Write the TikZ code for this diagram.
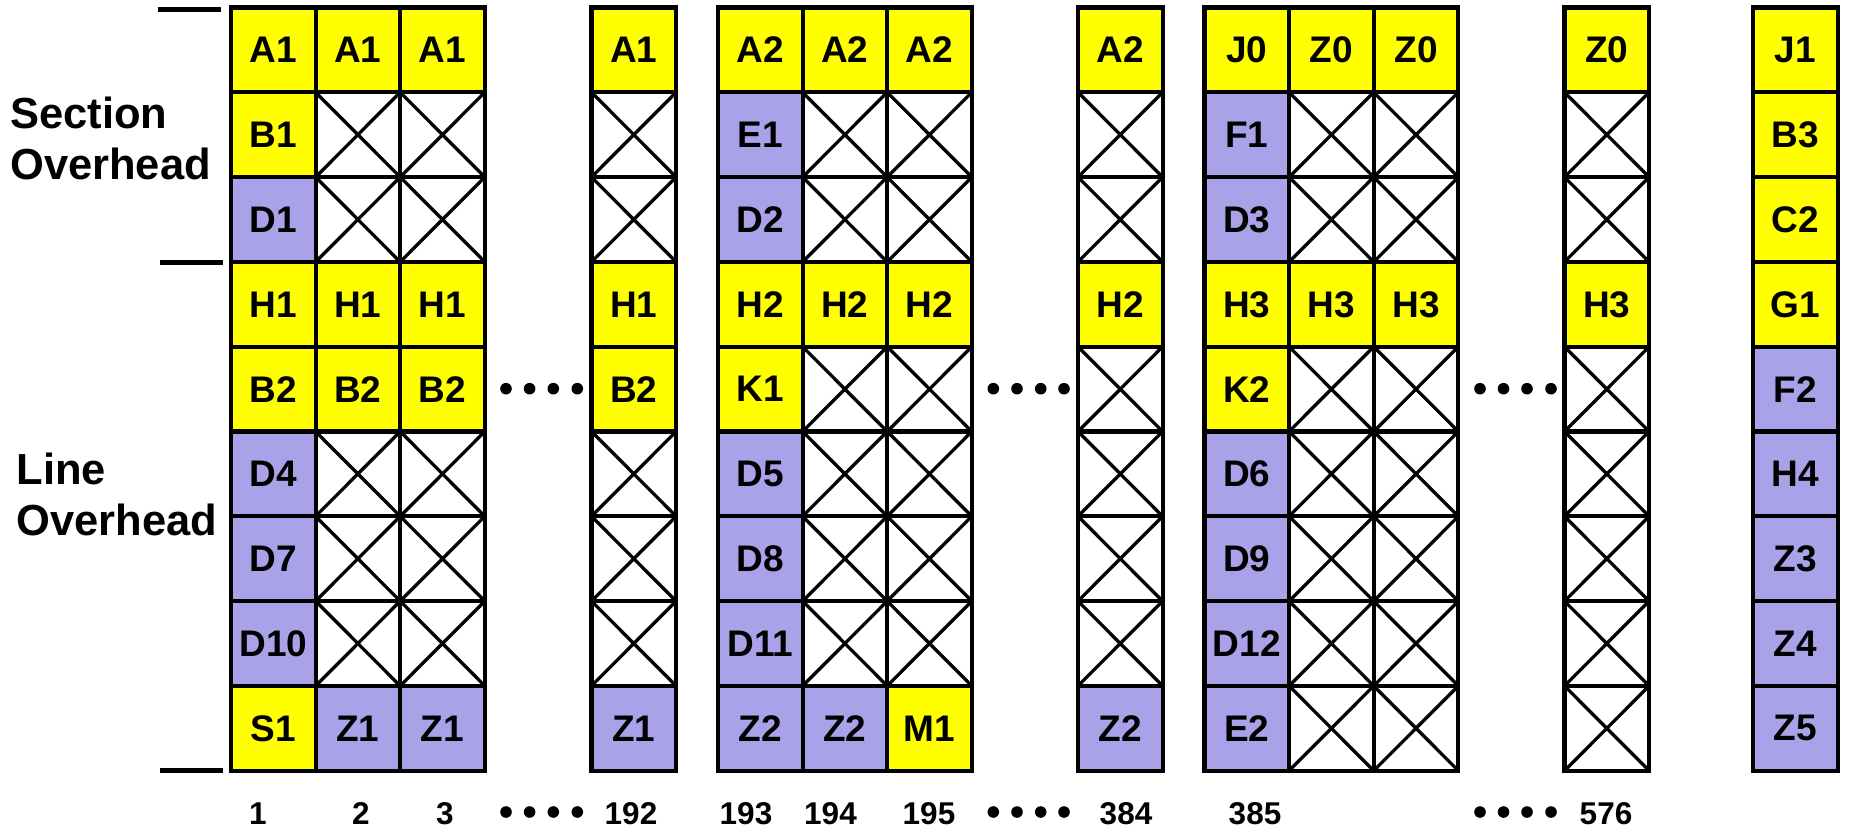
\documentclass[tikz,border=0pt]{standalone}
\usepackage{fontspec}
\setmainfont{Liberation Sans}
\definecolor{ovyellow}{RGB}{255,255,0}
\definecolor{ovpurple}{RGB}{170,162,232}
\newcommand\cellfont{\bfseries\fontsize{37pt}{42pt}\selectfont}
\newcommand\numfont{\bfseries\fontsize{31.5pt}{36pt}\selectfont}
\newcommand\sidefont{\bfseries\fontsize{43.5pt}{50pt}\selectfont}
% one column of nine frame bytes: prefix, left edge, list of kind/label
\newcommand\cellcol[3]{%
  \foreach \k/\lab [count=\rw from 0] in {#3} {
    \node[cell\k] (#1-\rw) at (#2, 7.5+\rw*84.8) {\lab};
  }%
}
\tikzset{
  cell/.style={draw, line width=4.2pt, minimum width=84.6pt, minimum height=84.8pt,
    inner sep=0pt, outer sep=0pt, anchor=north west, font=\cellfont},
  cellY/.style={cell, fill=ovyellow},
  cellP/.style={cell, fill=ovpurple},
  cellX/.style={cell, fill=white, path picture={
    \draw[line width=3.3pt] (path picture bounding box.north west) -- (path picture bounding box.south east)
      (path picture bounding box.south west) -- (path picture bounding box.north east);}},
  colnum/.style={font=\numfont, inner sep=0pt, anchor=base},
  side/.style={font=\sidefont, inner sep=0pt, anchor=base west},
  tick/.style={line width=4.2pt},
}
\begin{document}
\begin{tikzpicture}[x=1pt, y=-1pt]
\useasboundingbox (0,0) rectangle (1852,829);

% side labels and bracket ticks
\node[side] (sec1) at (10,129) {Section};
\node[side] (sec2) at (10,180) {Overhead};
\node[side] (lin1) at (16.5,484) {Line};
\node[side] (lin2) at (16.5,535) {Overhead};
\draw[tick] (158,9.5) -- (221,9.5);
\draw[tick] (160,262.5) -- (223,262.5);
\draw[tick] (160,770.5) -- (223,770.5);

% columns of the frame
\cellcol{c1}{231}{Y/A1,Y/B1,P/D1,Y/H1,Y/B2,P/D4,P/D7,P/D10,Y/S1}
\cellcol{c2}{315.6}{Y/A1,X/{},X/{},Y/H1,Y/B2,X/{},X/{},X/{},P/Z1}
\cellcol{c3}{400.2}{Y/A1,X/{},X/{},Y/H1,Y/B2,X/{},X/{},X/{},P/Z1}
\cellcol{c192}{591.5}{Y/A1,X/{},X/{},Y/H1,Y/B2,X/{},X/{},X/{},P/Z1}
\cellcol{c193}{718}{Y/A2,P/E1,P/D2,Y/H2,Y/K1,P/D5,P/D8,P/D11,P/Z2}
\cellcol{c194}{802.6}{Y/A2,X/{},X/{},Y/H2,X/{},X/{},X/{},X/{},P/Z2}
\cellcol{c195}{887.2}{Y/A2,X/{},X/{},Y/H2,X/{},X/{},X/{},X/{},Y/M1}
\cellcol{c384}{1078}{Y/A2,X/{},X/{},Y/H2,X/{},X/{},X/{},X/{},P/Z2}
\cellcol{c385}{1204.5}{Y/J0,P/F1,P/D3,Y/H3,Y/K2,P/D6,P/D9,P/D12,P/E2}
\cellcol{c386}{1289.1}{Y/Z0,X/{},X/{},Y/H3,X/{},X/{},X/{},X/{},X/{}}
\cellcol{c387}{1373.7}{Y/Z0,X/{},X/{},Y/H3,X/{},X/{},X/{},X/{},X/{}}
\cellcol{c576}{1564.5}{Y/Z0,X/{},X/{},Y/H3,X/{},X/{},X/{},X/{},X/{}}
\cellcol{clast}{1753}{Y/J1,Y/B3,Y/C2,Y/G1,P/F2,P/H4,P/Z3,P/Z4,P/Z5}

% ellipsis dots between column groups
\foreach \dx in {506,529.6,553.3,577.3, 993.3,1017,1040.7,1064, 1480,1503.5,1527,1551} {
  \fill (\dx,388.7) circle (5.8);
  \fill (\dx,812) circle (5.8);
}

% column numbers
\foreach \nx/\nt in {258/1, 361/2, 445/3, 631/192, 746/193, 830.5/194, 929/195, 1126/384, 1255/385, 1606/576} {
  \node[colnum] (num\nt) at (\nx,824.3) {\nt};
}
\end{tikzpicture}
\end{document}
